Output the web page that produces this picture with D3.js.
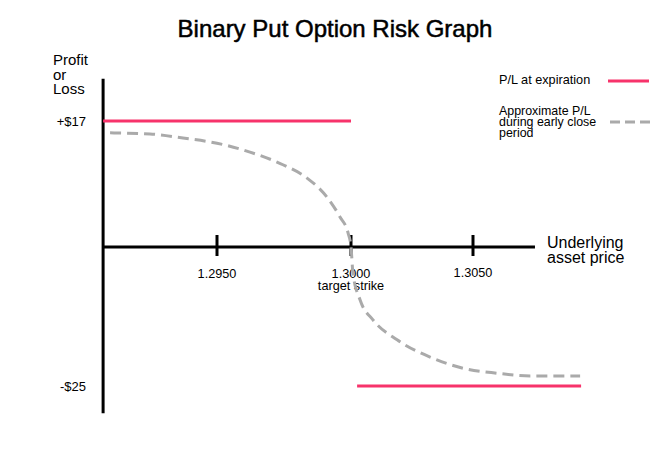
<!DOCTYPE html>
<html>
<head>
<meta charset="utf-8">
<script src="https://cdn.jsdelivr.net/npm/d3@7"></script>
<style>
  body { margin: 0; background: #fff; }
  text { font-family: "Liberation Sans", Arial, sans-serif; fill: #000; }
</style>
</head>
<body>
<div id="chart"></div>
<script>
// chart values
const xTicks = [1.2950, 1.3000, 1.3050]
const xTickLabels = ["1.2950", "1.3000", "1.3050"]
const yTicks = [17, -25]
const yTickLabels = ["+$17", "-$25"]

// P/L at expiration (two flat pieces)
const expUpperPrice = [1.29075, 1.3000]
const expUpperPL = [17, 17]
const expLowerPrice = [1.30025, 1.30943]
const expLowerPL = [-25, -25]

// approximate P/L during early close period
const earlyPrice = [1.29101, 1.29250, 1.29373, 1.29500, 1.29623, 1.29746, 1.29836, 1.29910, 1.29959, 1.29989, 1.30000,
    1.30008, 1.30037, 1.30090, 1.30189, 1.30324, 1.30459, 1.30598, 1.30734, 1.30939]
const earlyPL = [15.4, 15.25, 14.7, 14.0, 12.8, 11.1, 9.3, 6.75, 4.05, 1.9, 0,
    -4.7, -9.5, -13.1, -16.7, -19.8, -21.8, -22.7, -23.2, -23.2]

const xExtent = [1.29075, 1.30754]
const yExtent = [-29.9, 22.7]

const width = 666
const height = 474
const pink = "#f7336b"
const grey = "#aaaaaa"

const svg = d3.select('#chart')
    .append('svg')
    .attr('width', width)
    .attr('height', height)

// hand drawn graph: the axes are not proportional, so use piecewise scales
const x = d3.scaleLinear().domain([1.2950, 1.3000, 1.3050]).range([217, 351, 473])
const y = d3.scaleLinear().domain([-25, 0, 17]).range([386, 247, 121])

// title
svg.append('text')
    .attr('x', 335)
    .attr('y', 37)
    .attr('text-anchor', 'middle')
    .attr('stroke', '#000')
    .attr('stroke-width', 0.5)
    .style('font-size', '24px')
    .text('Binary Put Option Risk Graph')

// axes
svg.append('line')
    .attr('x1', x(xExtent[0])).attr('x2', x(xExtent[0]))
    .attr('y1', y(yExtent[1])).attr('y2', y(yExtent[0]))
    .attr('stroke', '#000').attr('stroke-width', 3)
svg.append('line')
    .attr('x1', x(xExtent[0])).attr('x2', x(xExtent[1]))
    .attr('y1', y(0)).attr('y2', y(0))
    .attr('stroke', '#000').attr('stroke-width', 3)

// x ticks
const xt = svg.append('g').selectAll('g')
    .data(xTicks)
    .join('g')
    .attr('transform', d => `translate(${x(d)},${y(0)})`)
xt.append('line')
    .attr('y1', -12).attr('y2', 9)
    .attr('stroke', '#000').attr('stroke-width', 3)
xt.append('text')
    .attr('y', (d, i) => i == 2 ? 29.5 : 31)
    .attr('text-anchor', 'middle')
    .style('font-size', '12.7px')
    .text((d, i) => xTickLabels[i])
svg.append('text')
    .attr('x', x(1.3000))
    .attr('y', 289.5)
    .attr('text-anchor', 'middle')
    .style('font-size', '12.7px')
    .text('target strike')

// y tick labels
svg.append('g').selectAll('text')
    .data(yTicks)
    .join('text')
    .attr('x', 86)
    .attr('y', d => y(d) + 4.5)
    .attr('text-anchor', 'end')
    .style('font-size', '13px')
    .text((d, i) => yTickLabels[i])

// axis titles
svg.append('text')
    .style('font-size', '15px')
    .selectAll('tspan')
    .data(['Profit', 'or', 'Loss'])
    .join('tspan')
    .attr('x', 53)
    .attr('y', (d, i) => 65 + i * 14.5)
    .text(d => d)
svg.append('text')
    .style('font-size', '16px')
    .selectAll('tspan')
    .data(['Underlying', 'asset price'])
    .join('tspan')
    .attr('x', 547)
    .attr('y', (d, i) => 248 + i * 15)
    .text(d => d)

// lines
const line = d3.line()
    .x(d => x(d[0]))
    .y(d => y(d[1]))
const early = d3.zip(earlyPrice, earlyPL)
svg.append('path')
    .attr('d', line.curve(d3.curveMonotoneX)(early))
    .attr('fill', 'none')
    .attr('stroke', grey)
    .attr('stroke-width', 3)
    .attr('stroke-dasharray', '11,6')

line.curve(d3.curveLinear)
svg.append('path')
    .attr('d', line(d3.zip(expUpperPrice, expUpperPL)))
    .attr('fill', 'none').attr('stroke', pink).attr('stroke-width', 3)
svg.append('path')
    .attr('d', line(d3.zip(expLowerPrice, expLowerPL)))
    .attr('fill', 'none').attr('stroke', pink).attr('stroke-width', 3)

// legend
const legend = svg.append('g')
legend.append('text')
    .attr('x', 499).attr('y', 84)
    .style('font-size', '12.7px')
    .text('P/L at expiration')
legend.append('line')
    .attr('x1', 608).attr('x2', 649)
    .attr('y1', 81).attr('y2', 81)
    .attr('stroke', pink).attr('stroke-width', 3)
legend.append('text')
    .style('font-size', '12.4px')
    .selectAll('tspan')
    .data(['Approximate P/L', 'during early close', 'period'])
    .join('tspan')
    .attr('x', 499)
    .attr('y', (d, i) => 115 + i * 11)
    .text(d => d)
legend.append('line')
    .attr('x1', 610).attr('x2', 650)
    .attr('y1', 122).attr('y2', 122)
    .attr('stroke', grey).attr('stroke-width', 3)
    .attr('stroke-dasharray', '10,5')
</script>
</body>
</html>
